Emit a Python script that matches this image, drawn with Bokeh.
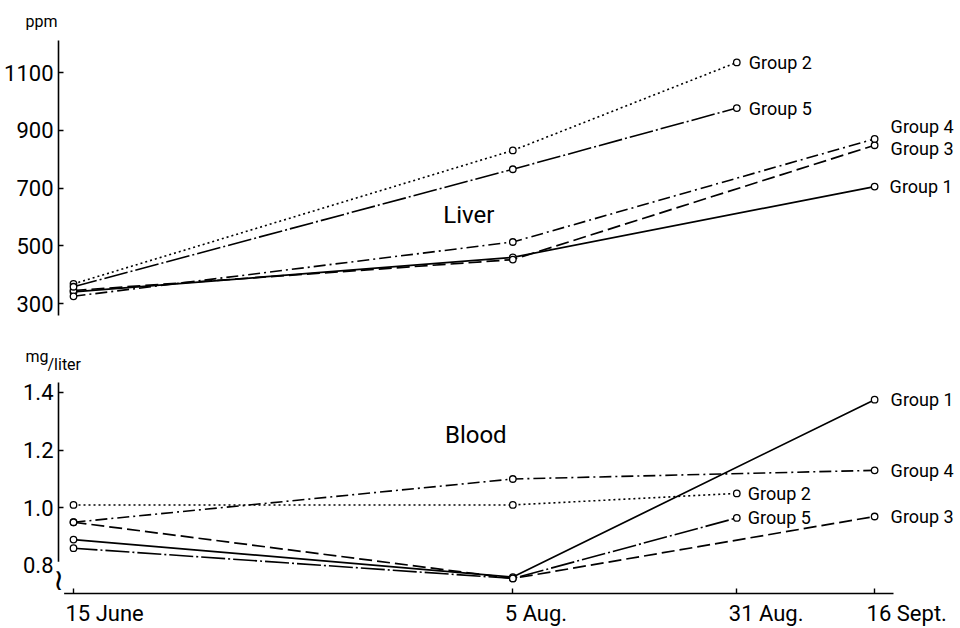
from bokeh.plotting import figure
from bokeh.layouts import column
from bokeh.core.properties import value
from bokeh.models import Range1d, FixedTicker, Label, LabelSet, ColumnDataSource, PrintfTickFormatter
from bokeh.embed import file_html
from bokeh.resources import INLINE

# ---------------- data ----------------
date_labels = ["15 June", "5 Aug.", "31 Aug.", "16 Sept."]
date_days = [0, 51, 77, 93]          # days after 15 June

group_names = ["Group 1", "Group 2", "Group 3", "Group 4", "Group 5"]

# Liver (ppm)
liver_g1_days = [0, 51, 93]
liver_g1 = [340, 460, 705]
liver_g2_days = [0, 51, 77]
liver_g2 = [368, 830, 1135]
liver_g3_days = [0, 51, 93]
liver_g3 = [345, 452, 848]
liver_g4_days = [0, 51, 93]
liver_g4 = [325, 513, 870]
liver_g5_days = [0, 51, 77]
liver_g5 = [358, 765, 977]
liver_ticks = [300, 500, 700, 900, 1100]

# Blood (mg/liter)
blood_g1_days = [0, 51, 93]
blood_g1 = [0.89, 0.76, 1.375]
blood_g2_days = [0, 51, 77]
blood_g2 = [1.01, 1.01, 1.05]
blood_g3_days = [0, 51, 93]
blood_g3 = [0.95, 0.755, 0.97]
blood_g4_days = [0, 51, 93]
blood_g4 = [0.95, 1.10, 1.13]
blood_g5_days = [0, 51, 77]
blood_g5 = [0.86, 0.755, 0.965]
blood_ticks = [0.8, 1.0, 1.2, 1.4]

liver_series = dict(zip(group_names, [(liver_g1_days, liver_g1), (liver_g2_days, liver_g2),
                                      (liver_g3_days, liver_g3), (liver_g4_days, liver_g4),
                                      (liver_g5_days, liver_g5)]))
blood_series = dict(zip(group_names, [(blood_g1_days, blood_g1), (blood_g2_days, blood_g2),
                                      (blood_g3_days, blood_g3), (blood_g4_days, blood_g4),
                                      (blood_g5_days, blood_g5)]))

# ---------------- style / layout ----------------
FONT = "Roboto"
dash = {"Group 1": "solid", "Group 2": "2 3", "Group 3": "13 5",
        "Group 4": "12 4 2 4", "Group 5": "24 3 2 3"}
width = {"Group 1": 1.7, "Group 2": 1.6, "Group 3": 1.7, "Group 4": 1.6, "Group 5": 1.6}
liver_label_off = {"Group 1": (15, 0), "Group 2": (12, 0), "Group 3": (16, -3),
                   "Group 4": (16, 12), "Group 5": (12, 0)}
blood_label_off = {"Group 1": (16, 0), "Group 2": (11, 0), "Group 3": (16, 0),
                   "Group 4": (16, 0), "Group 5": (11, 0)}

X_START, X_END = -8.475, 102.97      # full canvas width in days
AXIS_X = -1.741                      # where the y axes stand
X_AXIS_END = 95.2                    # right end of the x axis line
LIVER_RANGE = (206.5, 1349.4)
LIVER_AXIS = (258.4, 1210.8)
BLOOD_RANGE = (0.5815, 1.615)
BLOOD_AXIS = (0.703, 1.435)
BREAK_Y = 0.752                      # axis-break mark on the blood axis

xr = Range1d(X_START, X_END)


def base(height, yrange):
    p = figure(width=960, height=height, x_range=xr, y_range=Range1d(*yrange),
               toolbar_location=None, output_backend="svg",
               min_border=0, min_border_left=0, min_border_right=0,
               min_border_top=0, min_border_bottom=0)
    p.outline_line_color = None
    p.xgrid.grid_line_color = None
    p.ygrid.grid_line_color = None
    p.background_fill_color = "white"
    p.border_fill_color = "white"
    return p


def style_y(p, ticks, bounds):
    ax = p.yaxis[0]
    ax.fixed_location = AXIS_X
    ax.bounds = bounds
    ax.ticker = FixedTicker(ticks=ticks)
    ax.major_tick_in = 5
    ax.major_tick_out = 0
    ax.minor_tick_line_color = None
    ax.axis_line_width = 1.6
    ax.major_tick_line_width = 1.4
    ax.major_label_text_font = FONT
    ax.major_label_text_font_size = "22px"
    ax.major_label_text_color = "black"
    ax.major_label_standoff = 5


def draw(p, series, offsets):
    for g in group_names:
        d, v = series[g]
        p.line(d, v, line_color="black", line_width=width[g], line_dash=dash[g])
        p.scatter(d, v, marker="circle", size=6.5, fill_color="white",
                  line_color="black", line_width=1.3)
        ox, oy = offsets[g]
        p.add_layout(Label(x=d[-1], y=v[-1], x_offset=ox, y_offset=oy, text=g,
                           text_font=FONT, text_font_size="18px", text_color="black",
                           text_align="left", text_baseline="middle"))


# ---------------- top: liver ----------------
p1 = base(330, LIVER_RANGE)
p1.xaxis.visible = False
style_y(p1, liver_ticks, LIVER_AXIS)
draw(p1, liver_series, liver_label_off)
p1.add_layout(Label(x=45.9, y=607, text="Liver", text_font=FONT, text_font_size="24px",
                    text_align="center", text_baseline="middle", text_color="black"))
p1.add_layout(Label(x=AXIS_X, y=LIVER_AXIS[1], x_offset=-33, y_offset=19, text="ppm",
                    text_font=FONT, text_font_size="16px", text_align="left",
                    text_baseline="middle", text_color="black"))

# ---------------- bottom: blood ----------------
p2 = base(298, BLOOD_RANGE)
style_y(p2, blood_ticks, BLOOD_AXIS)
p2.yaxis[0].formatter = PrintfTickFormatter(format="%.1f")
xa = p2.xaxis[0]
xa.fixed_location = BLOOD_AXIS[0]
xa.bounds = (AXIS_X, X_AXIS_END)
xa.ticker = FixedTicker(ticks=date_days)
xa.major_label_overrides = {d: "" for d in date_days}
xa.major_tick_in = 5
xa.major_tick_out = 0
xa.minor_tick_line_color = None
xa.axis_line_width = 1.6
xa.major_tick_line_width = 1.4
draw(p2, blood_series, blood_label_off)
p2.add_layout(Label(x=46.7, y=1.251, text="Blood", text_font=FONT, text_font_size="24px",
                    text_align="center", text_baseline="middle", text_color="black"))
p2.add_layout(Label(x=AXIS_X, y=BLOOD_AXIS[1], x_offset=-33, y_offset=26, text="mg",
                    text_font=FONT, text_font_size="16px", text_align="left",
                    text_baseline="middle", text_color="black"))
p2.add_layout(Label(x=AXIS_X, y=BLOOD_AXIS[1], x_offset=-11, y_offset=18, text="/liter",
                    text_font=FONT, text_font_size="16px", text_align="left",
                    text_baseline="middle", text_color="black"))
p2.add_layout(Label(x=AXIS_X, y=BREAK_Y, text="≀", text_font="DejaVu Sans",
                    text_font_size="30px", text_align="center", text_baseline="middle",
                    text_color="black", background_fill_color="white"))
date_src = ColumnDataSource(dict(x=date_days, y=[BLOOD_AXIS[0]] * len(date_days), t=date_labels))
p2.add_layout(LabelSet(x="x", y="y", text="t", source=date_src, x_offset=-8, y_offset=-20,
                       text_font=value(FONT), text_font_size=value("22px"), text_align="left",
                       text_baseline="middle", text_color="black"))

layout = column(p1, p2)
open("out.html", "w").write(file_html(layout, INLINE))
